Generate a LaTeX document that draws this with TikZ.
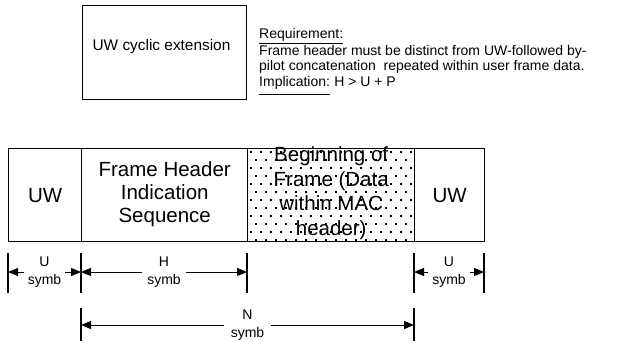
\documentclass[tikz,border=0pt]{standalone}
\usepackage{fontspec}
\setmainfont{Liberation Sans}
\usetikzlibrary{arrows.meta}
\begin{document}
\begin{tikzpicture}[x=1pt,y=-1pt,
  cell/.style={draw, line width=1.4pt, inner sep=0pt, anchor=north west, minimum height=93pt},
  big/.style={font=\fontsize{20.5}{23}\selectfont, align=center, inner sep=0pt},
  small/.style={font=\fontsize{14}{15.5}\selectfont, inner sep=0pt, anchor=base west},
  dimlabel/.style={font=\fontsize{14}{18}\selectfont, align=center, inner ysep=0pt, inner xsep=5.5pt},
  tick/.style={line width=1.5pt},
  arr/.style={line width=1pt, -{Triangle[length=10pt,width=8pt]}},
  uline/.style={line width=0.9pt}]
\useasboundingbox (0,0) rectangle (624,346);

% top box
\node[draw, line width=1.2pt, anchor=north west, minimum width=164pt, minimum height=94pt, inner sep=0pt] (ext) at (82,5) {};
\node[font=\fontsize{15.4}{18}\selectfont, inner sep=0pt] (extlabel) at (161.5,46.5) {UW cyclic extension};

% requirement text
\node[small] (req1) at (259,38) {Requirement:};
\node[small] (req2) at (259,55) {Frame header must be distinct from UW-followed by-};
\node[small] (req3) at (259,70.5) {pilot concatenation\ \ repeated within user frame data.};
\node[small] (req4) at (259,86) {Implication:};
\node[small] (req5) at ([xshift=3.9pt]req4.base east) {H > U + P};
\draw[uline] ([yshift=-5.5pt]req1.base west) -- ([yshift=-5.5pt]req1.base east);
\draw[uline] ([yshift=-8pt]req4.base west) -- ([yshift=-8pt]req4.base east);

% dotted fill of the data cell
\begin{scope}
\clip (248,149) rectangle (413,240);
\foreach \r in {0,...,11}{
  \foreach \c in {0,...,17}{
    \pgfmathsetmacro{\px}{251+\c*10+mod(\r,2)*5}
    \pgfmathsetmacro{\py}{152+\r*8}
    \fill (\px-0.8,\py-0.8) rectangle (\px+0.8,\py+0.8);
  }
}
\end{scope}

% frame cells
\node[cell, minimum width=73pt] (uw1) at (8,148) {};
\node[cell, minimum width=166pt] (fh) at (81,148) {};
\node[cell, minimum width=167pt] (bof) at (247,148) {};
\node[cell, minimum width=70pt] (uw2) at (414,148) {};
\node[big] at (uw1.center) {UW};
\node[big] at ([yshift=1pt]fh.center) {Frame Header\\Indication\\Sequence};
\node[big, font=\fontsize{20.5}{24.5}\selectfont] at ([yshift=2pt]bof.center) {Beginning of\\Frame (Data\\within MAC\\header)};
\node[big] at (uw2.center) {UW};

% dimension ticks
\coordinate (t0) at (8,253);   \coordinate (b0) at (8,293);
\coordinate (t1) at (81,253);  \coordinate (b1) at (81,293);
\coordinate (t2) at (247,253); \coordinate (b2) at (247,293);
\coordinate (t3) at (414,253); \coordinate (b3) at (414,293);
\coordinate (t4) at (484,253); \coordinate (b4) at (484,293);
\coordinate (n1) at (81,308);  \coordinate (m1) at (81,341);
\coordinate (n2) at (414,308); \coordinate (m2) at (414,341);
\foreach \a/\b in {t0/b0,t1/b1,t2/b2,t3/b3,t4/b4,n1/m1,n2/m2}
  \draw[tick] (\a) -- (\b);

% dimension labels and arrows
\node[dimlabel, inner xsep=4pt] (du1) at (44.5,272) {U\\symb};
\draw[arr] (du1.west) -- (du1.west -| t0);
\draw[arr] (du1.east) -- (du1.east -| t1);
\node[dimlabel] (dh) at (164,272) {H\\symb};
\draw[arr] (dh.west) -- (dh.west -| t1);
\draw[arr] (dh.east) -- (dh.east -| t2);
\node[dimlabel, inner xsep=4pt] (du2) at (449,272) {U\\symb};
\draw[arr] (du2.west) -- (du2.west -| t3);
\draw[arr] (du2.east) -- (du2.east -| t4);
\node[dimlabel, inner xsep=7pt] (dn) at (247.5,325) {N\\symb};
\draw[arr] (dn.west) -- (dn.west -| n1);
\draw[arr] (dn.east) -- (dn.east -| n2);
\end{tikzpicture}
\end{document}
